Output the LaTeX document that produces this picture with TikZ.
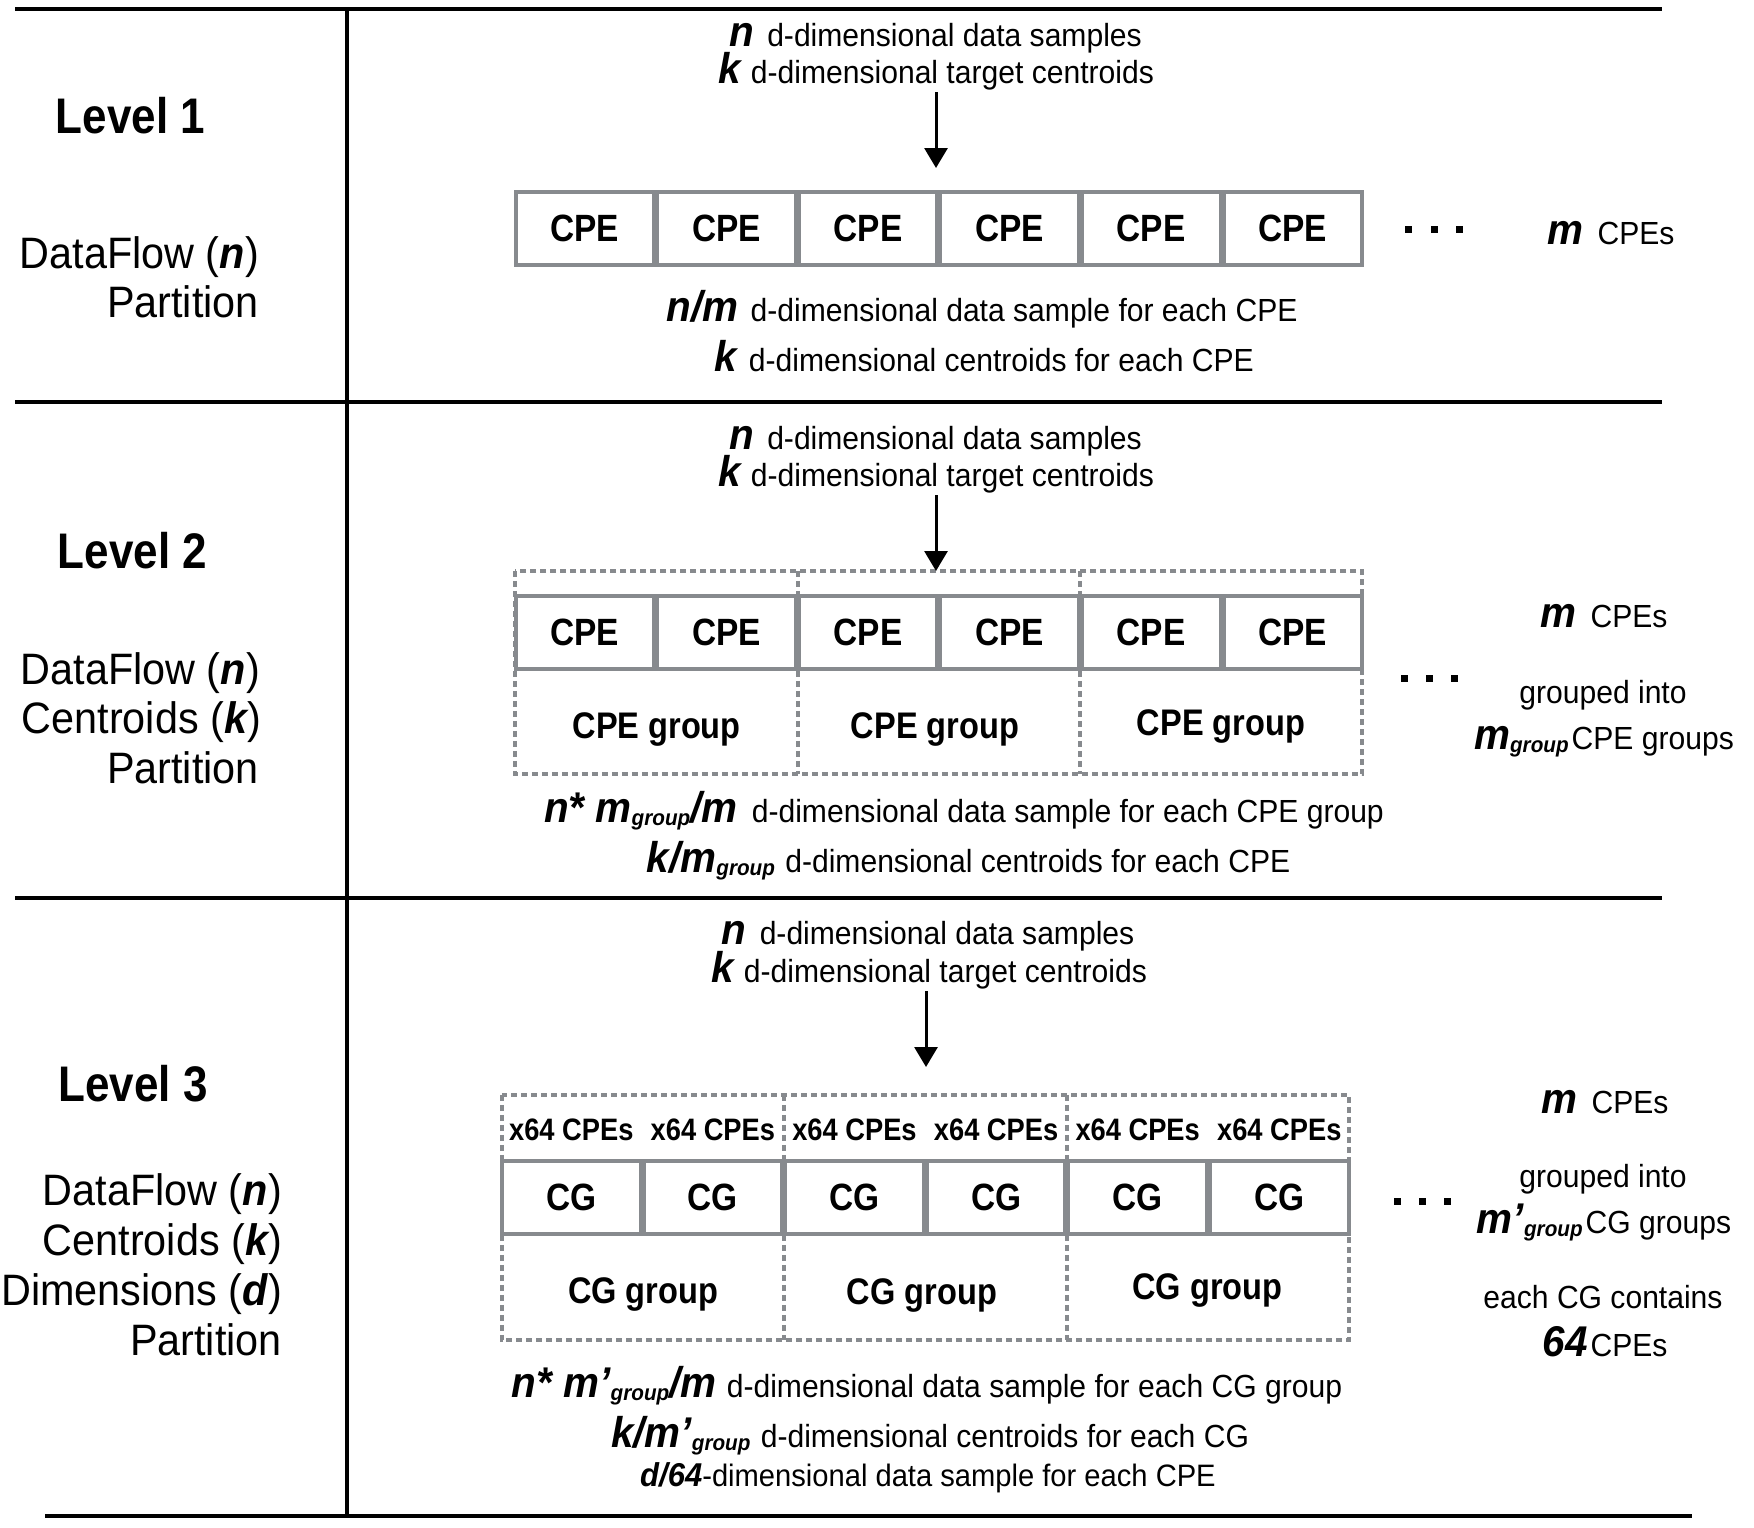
\documentclass[tikz,border=0pt]{standalone}
\usepackage{fontspec}
\setmainfont{Liberation Sans}[UprightFeatures={FakeStretch=0.94},BoldFeatures={FakeStretch=0.88},BoldItalicFeatures={FakeStretch=0.94}]
\usetikzlibrary{arrows.meta}
\definecolor{boxgray}{RGB}{135,138,142}
\newcommand\myvar[1]{{\fontsize{43}{43}\selectfont\bfseries\itshape #1}}
\newcommand\myvars[1]{{\fontsize{33}{33}\selectfont\bfseries\itshape #1}}
\newcommand\mysub[1]{\raisebox{-3pt}{\fontsize{22}{22}\selectfont\bfseries\itshape #1}}
\newcommand\lv[1]{{\bfseries\itshape #1}}
\tikzset{
 txt/.style={inner sep=0pt, anchor=base, font=\fontsize{32}{38}\selectfont},
 toptxt/.style={txt, text depth=0pt},
 lefttxt/.style={inner sep=0pt, anchor=base east, font=\fontsize{44}{50}\selectfont},
 lvl/.style={inner sep=0pt, anchor=base, font=\fontsize{50}{56}\selectfont\bfseries},
 cell/.style={draw=boxgray, line width=4pt, minimum width=138.6pt, minimum height=73pt, inner sep=0pt, font=\fontsize{38}{38}\selectfont\bfseries},
 grp/.style={inner sep=0pt, minimum width=282.2pt},
 grpline/.style={draw=boxgray, line width=4pt, dash pattern=on 6pt off 4pt},
 grplabel/.style={inner sep=0pt, anchor=base, font=\fontsize{37}{37}\selectfont\bfseries},
 cpelabel/.style={inner sep=0pt, anchor=base, font=\fontsize{31}{31}\selectfont\bfseries},
 rule/.style={line width=4.5pt, black},
 flow/.style={line width=3pt, -{Triangle[width=23pt,length=20pt]}},
 dotsq/.style={fill=black, minimum size=7pt, inner sep=0pt},
}
\begin{document}
\begin{tikzpicture}[x=1pt,y=-1pt]
\fill[white] (0,0) rectangle (1754,1528);
\useasboundingbox (0,0) rectangle (1754,1528);
% frame rules
\draw[rule] (15,9) -- (1662,9);
\draw[rule] (15,402) -- (1662,402);
\draw[rule] (15,898) -- (1662,898);
\draw[rule] (45,1516) -- (1692,1516);
\draw[rule] (347,9) -- (347,1516);

% ---------------- Level 1 ----------------
\node[lvl] (lv1) at (130.5,133) {Level 1};
\node[lefttxt] (l1a) at (259,268) {DataFlow (\lv{n})};
\node[lefttxt] (l1b) at (259,317) {Partition};
\node[toptxt] (t1a) at (935.5,47) {\myvar{n}\hspace{5pt} d-dimensional data samples};
\node[txt] (t1b) at (936,84) {\myvar{k}\hspace{2pt} d-dimensional target centroids};
\coordinate (a1s) at (936,92);
\coordinate (a1e) at (936,168);
\draw[flow] (a1s) -- (a1e);
\foreach \i in {1,...,6} \node[cell] (c1\i) at ({584.8+141.6*(\i-1)},228.5) {CPE};
\node[dotsq] (d11) at (1408,229) {};
\node[dotsq] (d12) at (1434,229) {};
\node[dotsq] (d13) at (1459,229) {};
\node[txt] (r1a) at (1611,244) {\myvar{m}\hspace{14pt}CPEs};
\node[txt] (b1a) at (982,321) {\myvar{n/m}\hspace{4pt} d-dimensional data sample for each CPE};
\node[txt] (b1b) at (984,371) {\myvar{k}\hspace{4pt} d-dimensional centroids for each CPE};

% ---------------- Level 2 ----------------
\node[lvl] (lv2) at (132.5,568) {Level 2};
\node[lefttxt] (l2a) at (260,684) {DataFlow (\lv{n})};
\node[lefttxt] (l2b) at (261,733) {Centroids (\lv{k})};
\node[lefttxt] (l2c) at (259,783) {Partition};
\node[toptxt] (t2a) at (935.5,449) {\myvar{n}\hspace{5pt} d-dimensional data samples};
\node[txt] (t2b) at (936,486) {\myvar{k}\hspace{2pt} d-dimensional target centroids};
\foreach \i/\x in {1/656.6,2/938.8,3/1221} \node[grp, minimum height=203pt] (g2\i) at (\x,672.5) {};
\draw[grpline] (g21.north west) rectangle (g23.south east);
\draw[grpline] (g21.north east) -- (g21.south east);
\draw[grpline] (g22.north east) -- (g22.south east);
\coordinate (a2s) at (936,495);
\coordinate (a2e) at (936,571);
\draw[flow] (a2s) -- (a2e);
\foreach \i in {1,...,6} \node[cell] (c2\i) at ({584.8+141.6*(\i-1)},632.5) {CPE};
\node[grplabel] (gl21) at (656.6,738) {CPE group};
\node[grplabel] (gl22) at (935,738) {CPE group};
\node[grplabel] (gl23) at (1221,735) {CPE group};
\node[dotsq] (d21) at (1404,678) {};
\node[dotsq] (d22) at (1429,678) {};
\node[dotsq] (d23) at (1454,678) {};
\node[txt] (r2a) at (1604,627) {\myvar{m}\hspace{14pt}CPEs};
\node[txt] (r2b) at (1603,703) {grouped into};
\node[txt] (r2c) at (1604,749) {\myvar{m}\mysub{group}\hspace{3pt}CPE groups};
\node[txt] (b2a) at (964,822) {\myvar{n* m}\mysub{group}\myvar{/m}\hspace{6pt} d-dimensional data sample for each CPE group};
\node[txt] (b2b) at (968.5,872) {\myvar{k/m}\mysub{group}\hspace{2pt} d-dimensional centroids for each CPE};

% ---------------- Level 3 ----------------
\node[lvl] (lv3) at (133,1101) {Level 3};
\node[lefttxt] (l3a) at (282,1205) {DataFlow (\lv{n})};
\node[lefttxt] (l3b) at (282,1255) {Centroids (\lv{k})};
\node[lefttxt] (l3c) at (282,1305) {Dimensions (\lv{d})};
\node[lefttxt] (l3d) at (282,1355) {Partition};
\node[toptxt] (t3a) at (928,944) {\myvar{n}\hspace{5pt} d-dimensional data samples};
\node[txt] (t3b) at (929,982) {\myvar{k}\hspace{2pt} d-dimensional target centroids};
\coordinate (a3s) at (926,991);
\coordinate (a3e) at (926,1067);
\draw[flow] (a3s) -- (a3e);
\foreach \i/\x in {1/643.1,2/925.3,3/1207.5} \node[grp, minimum height=245pt] (g3\i) at (\x,1217.5) {};
\draw[grpline] (g31.north west) rectangle (g33.south east);
\draw[grpline] (g31.north east) -- (g31.south east);
\draw[grpline] (g32.north east) -- (g32.south east);
\foreach \i in {1,...,6} \node[cell] (c3\i) at ({571.3+141.6*(\i-1)},1197.5) {CG};
\foreach \i in {1,...,6} \node[cpelabel] (x3\i) at ({571.3+141.6*(\i-1)},1140) {x64 CPEs};
\node[grplabel] (gl31) at (643.1,1303) {CG group};
\node[grplabel] (gl32) at (922,1304) {CG group};
\node[grplabel] (gl33) at (1207.5,1299) {CG group};
\node[dotsq] (d31) at (1397,1201) {};
\node[dotsq] (d32) at (1422,1201) {};
\node[dotsq] (d33) at (1447,1201) {};
\node[txt] (r3a) at (1605,1113) {\myvar{m}\hspace{14pt}CPEs};
\node[txt] (r3b) at (1603,1187) {grouped into};
\node[txt] (r3c) at (1604,1233) {\myvar{m’}\mysub{group}\hspace{3pt}CG groups};
\node[txt] (r3d) at (1603,1308) {each CG contains};
\node[txt] (r3e) at (1605,1356) {\myvar{64}\hspace{3pt}CPEs};
\node[txt] (b3a) at (927,1397) {\myvar{n* m’}\mysub{group}\myvar{/m}\hspace{2pt} d-dimensional data sample for each CG group};
\node[txt] (b3b) at (930,1447) {\myvar{k/m’}\mysub{group}\hspace{2pt} d-dimensional centroids for each CG};
\node[txt, font=\fontsize{31}{36}\selectfont] (b3c) at (928,1486) {\myvars{d/64}-dimensional data sample for each CPE};
\end{tikzpicture}
\end{document}
